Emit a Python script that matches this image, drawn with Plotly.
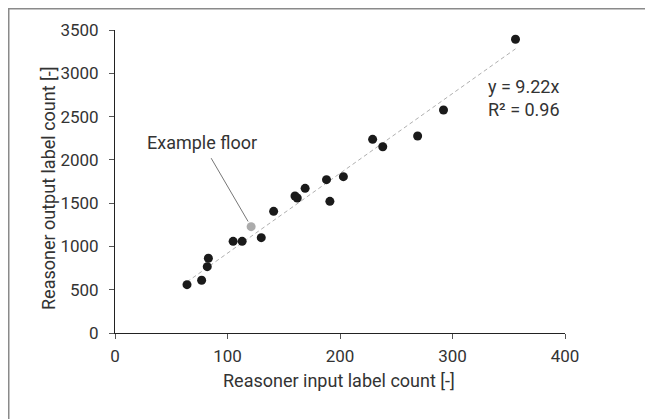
import plotly.graph_objects as go

x_input = [64, 77, 82, 83, 105, 113, 130, 141, 160, 162, 169, 188, 191, 203, 229, 238, 269, 292, 356]
y_output = [558, 609, 766, 863, 1059, 1059, 1101, 1405, 1582, 1560, 1671, 1771, 1521, 1806, 2237, 2152, 2276, 2576, 3393]
example_x = [121]
example_y = [1228]
slope = 9.22
r2 = 0.96

x_ticks = [0, 100, 200, 300, 400]
y_ticks = [0, 500, 1000, 1500, 2000, 2500, 3000, 3500]
x_title = "Reasoner input label count [-]"
y_title = "Reasoner output label count [-]"

all_x = x_input + example_x
xmin, xmax = min(all_x), max(all_x)

FONT = "Roboto"
TXT = "#333333"
L, T, W, H = 107, 22, 450, 303

fig = go.Figure()
fig.add_trace(go.Scatter(
    x=[xmin, xmax], y=[slope * xmin, slope * xmax], mode="lines",
    line=dict(color="#b0b0b0", width=1, dash="4px,3px"), hoverinfo="skip"))
fig.add_trace(go.Scatter(
    x=x_input, y=y_output, mode="markers",
    marker=dict(color="#1a1a1a", size=9)))
fig.add_trace(go.Scatter(
    x=example_x, y=example_y, mode="markers",
    marker=dict(color="#ababab", size=9)))

fig.add_annotation(
    x=example_x[0], y=example_y[0], xref="x", yref="y",
    text="Example floor", showarrow=True, arrowhead=0, arrowwidth=1,
    arrowcolor="#777777", ax=-49, ay=-84, standoff=6, startstandoff=4,
    font=dict(family=FONT, size=18, color=TXT))
fig.add_annotation(
    x=329.8, y=2709, xref="x", yref="y", xanchor="left", yanchor="middle",
    align="left", showarrow=False,
    text=f"y = {slope:.2f}x<br>R² = {r2:.2f}",
    font=dict(family=FONT, size=18, color=TXT))

# axis titles
fig.add_annotation(
    x=(331 - L) / W, y=(T + H - 372) / H, xref="paper", yref="paper",
    xanchor="center", yanchor="middle", showarrow=False, text=x_title,
    font=dict(family=FONT, size=18, color=TXT))
fig.add_annotation(
    x=(40 - L) / W, y=(T + H - 180) / H, xref="paper", yref="paper",
    xanchor="center", yanchor="middle", showarrow=False, text=y_title,
    textangle=-90, font=dict(family=FONT, size=18, color=TXT))

# outer frame
fig.add_shape(type="rect", xref="paper", yref="paper",
              x0=(-L + 0.75) / W, x1=1.5, y0=-0.5, y1=1 + (T - 0.75) / H,
              line=dict(color="#8a8a8a", width=1.5), fillcolor="rgba(0,0,0,0)")

axis_common = dict(
    showgrid=False, zeroline=False, showline=True, linecolor="#222222",
    linewidth=1, ticks="outside", ticklen=5, tickcolor="#555555",
    automargin=False,
    tickfont=dict(family=FONT, size=17, color=TXT))

fig.update_xaxes(range=[0, 400], tickvals=x_ticks, ticklabelstandoff=3, **axis_common)
fig.update_yaxes(range=[0, 3500], tickvals=y_ticks, ticklabelstandoff=7, **axis_common)

fig.update_layout(
    width=653, height=419,
    margin=dict(l=L, r=653 - L - W, t=T, b=419 - T - H),
    paper_bgcolor="white", plot_bgcolor="white",
    showlegend=False,
    font=dict(family=FONT, size=16, color=TXT))

fig.write_html("out.html")
